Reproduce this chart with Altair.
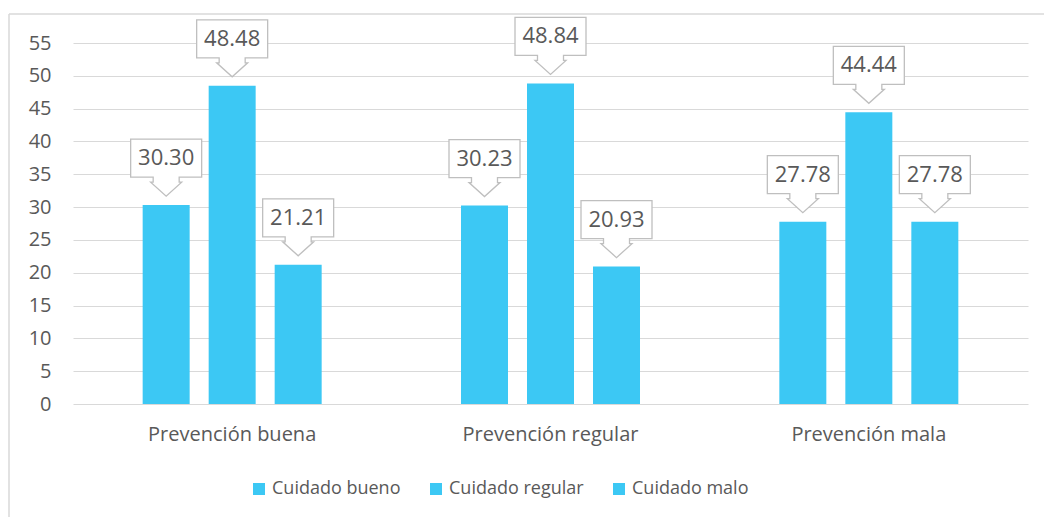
import altair as alt
import pandas as pd

categories = ["Prevención buena", "Prevención regular", "Prevención mala"]
series = ["Cuidado bueno", "Cuidado regular", "Cuidado malo"]
cuidado_bueno = [30.30, 30.23, 27.78]
cuidado_regular = [48.48, 48.84, 44.44]
cuidado_malo = [21.21, 20.93, 27.78]
y_ticks = list(range(0, 60, 5))

rows = []
for s, vals in zip(series, [cuidado_bueno, cuidado_regular, cuidado_malo]):
    for c, v in zip(categories, vals):
        rows.append({"prev": c, "cuid": s, "val": v})
df = pd.DataFrame(rows)

BAR = "#3CC8F4"
TXT = "#595959"
GRID = "#D9D9D9"
FONT = "Open Sans"

# callout shape (box + down arrow), units are pixels with size=4
CALLOUT = ("M -35.5 -66 L 35.5 -66 L 35.5 -28 L 13 -28 L 13 -23 L 15.5 -23 "
           "L 0 -9 L -15.5 -23 L -13 -23 L -13 -28 L -35.5 -28 Z")

x_enc = alt.X("prev:N", sort=categories,
              scale=alt.Scale(paddingInner=0.4377, paddingOuter=0.21885),
              axis=alt.Axis(title=None, labelAngle=0, labelFontSize=20, labelFont=FONT,
                            labelColor=TXT, ticks=False, domain=False, labelPadding=20))
xo_enc = alt.XOffset("cuid:N", sort=series,
                     scale=alt.Scale(paddingInner=0.288, paddingOuter=0))
y_enc = alt.Y("val:Q", scale=alt.Scale(domain=[0, 55], nice=False),
              axis=alt.Axis(values=y_ticks, title=None, domain=False, ticks=False,
                            labelPadding=22, gridColor=GRID, labelFontSize=20,
                            labelFont=FONT, labelColor=TXT))

base = alt.Chart(df).encode(x=x_enc, xOffset=xo_enc, y=y_enc)

bars = base.mark_bar(color=BAR).encode(
    color=alt.Color("cuid:N", sort=series,
                    scale=alt.Scale(domain=series, range=[BAR, BAR, BAR]),
                    legend=alt.Legend(orient="none", legendX=177, legendY=437,
                                      direction="horizontal", title=None,
                                      symbolType="square", symbolSize=144,
                                      labelFontSize=18, labelFont=FONT, labelColor=TXT,
                                      columnPadding=26, labelOffset=4,
                                      symbolStrokeWidth=0))
)

callouts = base.mark_point(shape=CALLOUT, size=4, filled=True, fill="white",
                           stroke="#BFBFBF", strokeWidth=1.3, opacity=1)

labels = base.mark_text(dy=-47, fontSize=22, font=FONT, color=TXT, baseline="middle").encode(
    text=alt.Text("val:Q", format=".2f")
)

frame = pd.DataFrame({"a": [0]})
left_border = alt.Chart(frame).mark_rule(color=GRID, strokeWidth=1.5).encode(
    x=alt.value(-64), y=alt.value(-29), y2=alt.value(480))
top_border = alt.Chart(frame).mark_rule(color=GRID, strokeWidth=1.5).encode(
    x=alt.value(-64), x2=alt.value(980), y=alt.value(-29))

chart = alt.layer(left_border, top_border, bars, callouts, labels).properties(
    width=955, height=361,
    autosize=alt.AutoSizeParams(type="none"),
    padding={"left": 73, "top": 43, "right": 16, "bottom": 113},
).configure_view(stroke=None)

chart.save("out.html", embed_options={"renderer": "svg", "actions": False})
